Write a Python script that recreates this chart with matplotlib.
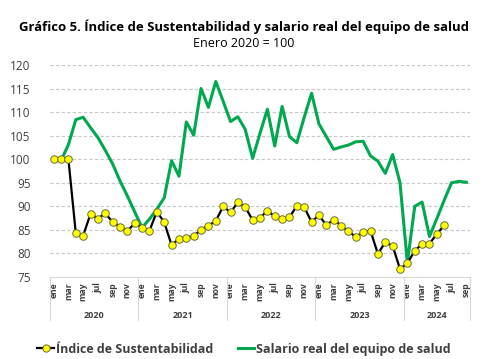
import numpy as np
import matplotlib
matplotlib.use("Agg")
import matplotlib.pyplot as plt
from matplotlib.lines import Line2D

plt.rcParams['font.family'] = ['Open Sans', 'DejaVu Sans']

years = ["2020", "2021", "2022", "2023", "2024"]
months = ["ene", "feb", "mar", "abr", "may", "jun", "jul", "ago", "sep", "oct", "nov", "dic"]
months_per_year = [12, 12, 12, 12, 9]

indice = [100, 100, 100, 84.3, 83.8, 88.4, 87.4, 88.5, 86.7, 85.7, 84.8, 86.4,
          85.5, 84.8, 88.9, 86.6, 81.8, 83.1, 83.3, 83.7, 85.0, 85.9, 86.9, 90.0,
          88.7, 90.9, 89.8, 87.1, 87.6, 89.0, 87.9, 87.4, 87.7, 90.1, 89.8, 86.7,
          88.1, 86.0, 87.2, 85.9, 84.7, 83.5, 84.5, 84.8, 79.9, 82.4, 81.6, 76.7,
          77.9, 80.6, 82.0, 82.1, 84.1, 86.0]

salario = [100, 99.7, 103.1, 108.4, 108.9, 106.7, 104.6, 101.9, 99.0, 95.4, 92.2, 88.8,
           85.5, 87.3, 89.4, 91.8, 99.7, 96.4, 107.9, 105.1, 115.0, 111.0, 116.5, 112.3,
           108.0, 109.0, 106.3, 100.2, 105.5, 110.6, 102.8, 111.2, 104.8, 103.5, 108.9, 114.0,
           107.5, 104.8, 102.1, 102.6, 103.0, 103.7, 103.8, 100.7, 99.6, 97.0, 101.0, 95.0,
           78.0, 90.0, 90.9, 83.6, 87.4, 91.3, 95.0, 95.3, 95.1]

title = "Gráfico 5. Índice de Sustentabilidad y salario real del equipo de salud"
subtitle = "Enero 2020 = 100"
label_ind = "Índice de Sustentabilidad"
label_sal = "Salario real del equipo de salud"

GREEN = "#00A84F"
GRID = "#c8c8c8"
TXT = "#404040"

fig = plt.figure(figsize=(5.0, 3.59), dpi=100)
ax = fig.add_axes([0.10, 0.2284, 0.84, 0.5906])

n = sum(months_per_year)
x = np.arange(n)
ax.plot(x[:len(salario)], salario, color=GREEN, lw=2.2, zorder=3)
ax.plot(x[:len(indice)], indice, color="black", lw=1.6, zorder=4,
        marker="o", markersize=5.4, markerfacecolor="#FFFF00",
        markeredgecolor="#6b6b3a", markeredgewidth=0.7)

ax.set_xlim(-0.5, n - 0.5)
ax.set_ylim(75, 120)
ax.set_yticks(np.arange(75, 121, 5))
ax.yaxis.grid(True, color=GRID, linestyle=(0, (3, 2)), linewidth=0.8)
ax.set_axisbelow(True)
for s in ["left", "right", "top"]:
    ax.spines[s].set_visible(False)
ax.spines["bottom"].set_color("#d9d9d9")
ax.spines["bottom"].set_linewidth(0.8)
ax.tick_params(axis="y", length=0, pad=14, labelsize=8.5, labelcolor=TXT)

tick_pos = []
tick_lab = []
i = 0
for y, m in zip(years, months_per_year):
    for k in range(m):
        if k % 2 == 0:
            tick_pos.append(i)
            tick_lab.append(months[k])
        i += 1
ax.set_xticks(tick_pos)
ax.set_xticklabels(tick_lab, rotation=90, fontsize=6.2, fontweight="bold", color=TXT)
ax.tick_params(axis="x", length=0, pad=4)

tr = ax.get_xaxis_transform()
start = 0
bounds = [-0.5]
for y, m in zip(years, months_per_year):
    ax.text(start + (m - 1) / 2, -0.182, y, transform=tr, ha="center", va="center",
            fontsize=6.5, fontweight="bold", color=TXT)
    start += m
    bounds.append(start - 0.5)
for b in bounds:
    ax.plot([b, b], [0, -0.205], transform=tr, color="#d9d9d9", lw=0.8, clip_on=False)

fig.text(0.488, 0.925, title, ha="center", va="center", fontsize=9.45, fontweight="bold", color="black")
fig.text(0.488, 0.878, subtitle, ha="center", va="center", fontsize=9, color="black")

h1 = Line2D([], [], color="black", lw=1.6, marker="o", markersize=5.2,
            markerfacecolor="#FFFF00", markeredgecolor="#6b6b3a", markeredgewidth=0.7)
h2 = Line2D([], [], color=GREEN, lw=2.2)
leg = fig.legend([h1, h2], [label_ind, label_sal], loc="center", bbox_to_anchor=(0.488, 0.027),
                 ncol=2, frameon=False, handlelength=1.3, handletextpad=0.15, columnspacing=2.0,
                 prop={"size": 9.0, "weight": "bold"})
for t in leg.get_texts():
    t.set_color(TXT)

fig.savefig("out.png", dpi=100)
